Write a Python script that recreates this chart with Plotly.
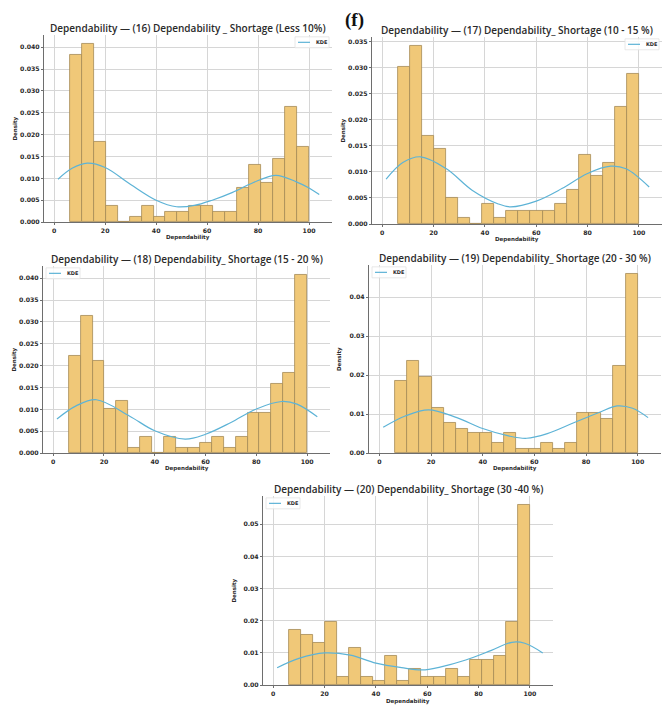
import numpy as np
import plotly.graph_objects as go

# Histogram bins shared by every panel (20 bins over the Dependability scale)
BIN_LO, BIN_HI, N_BINS = 6.1, 100.0, 20

TITLES = [
    "Dependability — (16) Dependability _ Shortage (Less 10%)",
    "Dependability — (17) Dependability_ Shortage (10 - 15 %)",
    "Dependability — (18) Dependability_ Shortage (15 - 20 %)",
    "Dependability — (19) Dependability_ Shortage (20 - 30 %)",
    "Dependability — (20) Dependability_ Shortage (30 -40 %)",
]

# Density per bin
dens_16 = [0.0383, 0.0408, 0.0183, 0.0038, 0.0, 0.0012, 0.0038, 0.0012, 0.0024, 0.0024,
           0.0038, 0.0038, 0.0024, 0.0024, 0.0078, 0.0131, 0.0090, 0.0144, 0.0264, 0.0171]
dens_17 = [0.0302, 0.0342, 0.0170, 0.0144, 0.0051, 0.0012, 0.0, 0.0038, 0.0012, 0.0026,
           0.0026, 0.0026, 0.0026, 0.0038, 0.0065, 0.0132, 0.0092, 0.0118, 0.0224, 0.0289]
dens_18 = [0.0223, 0.0315, 0.0210, 0.0102, 0.0119, 0.0012, 0.0038, 0.0, 0.0038, 0.0012,
           0.0012, 0.0024, 0.0038, 0.0012, 0.0038, 0.0091, 0.0091, 0.0159, 0.0184, 0.0408]
dens_19 = [0.0185, 0.0236, 0.0196, 0.0117, 0.0078, 0.0063, 0.0051, 0.0051, 0.0025, 0.0051,
           0.0012, 0.0012, 0.0025, 0.0012, 0.0025, 0.0102, 0.0102, 0.0089, 0.0223, 0.0460]
dens_20 = [0.0171, 0.0156, 0.0130, 0.0196, 0.0025, 0.0116, 0.0025, 0.0012, 0.0091, 0.0012,
           0.0051, 0.0025, 0.0025, 0.0051, 0.0025, 0.0077, 0.0077, 0.0091, 0.0196, 0.0560]

# KDE curves (x, density)
kde_x_16 = [1.5, 7, 13, 20, 30, 40, 48, 55, 62, 70, 78, 87, 95, 100, 104]
kde_y_16 = [0.0098, 0.0123, 0.0135, 0.0125, 0.0086, 0.0050, 0.0035, 0.0038, 0.0050, 0.0068,
            0.0090, 0.0107, 0.0092, 0.0078, 0.0063]
kde_x_17 = [1.5, 8, 15, 25, 35, 45, 50, 60, 70, 80, 89, 95, 104]
kde_y_17 = [0.0086, 0.0118, 0.0129, 0.0106, 0.0065, 0.0039, 0.0033, 0.0044, 0.0068, 0.0097,
            0.0111, 0.0106, 0.0071]
kde_x_18 = [1.5, 9, 17, 30, 40, 52, 60, 70, 80, 90, 96, 104]
kde_y_18 = [0.0078, 0.0108, 0.0122, 0.0085, 0.0051, 0.0032, 0.0043, 0.0070, 0.0101, 0.0118,
            0.0112, 0.0083]
kde_x_19 = [1.5, 10, 19, 30, 40, 50, 57, 65, 75, 85, 92, 98, 104]
kde_y_19 = [0.0066, 0.0095, 0.0111, 0.0091, 0.0063, 0.0044, 0.0038, 0.0050, 0.0077, 0.0104,
            0.0121, 0.0115, 0.0091]
kde_x_20 = [1.5, 10, 20, 30, 40, 50, 58, 65, 75, 85, 93, 98, 105]
kde_y_20 = [0.0054, 0.0083, 0.0100, 0.0093, 0.0068, 0.0054, 0.0047, 0.0056, 0.0078, 0.0108,
            0.0133, 0.0130, 0.0100]

Y_DTICK = [0.005, 0.005, 0.005, 0.01, 0.01]
Y_FMT = [".3f", ".3f", ".3f", ".2f", ".2f"]
X_TICKS = [0, 20, 40, 60, 80, 100]

densities = [dens_16, dens_17, dens_18, dens_19, dens_20]
kdes = [(kde_x_16, kde_y_16), (kde_x_17, kde_y_17), (kde_x_18, kde_y_18),
        (kde_x_19, kde_y_19), (kde_x_20, kde_y_20)]

W, H = 669, 706
# plot areas in pixels: (left, top, right, bottom)
BOXES = [
    (44, 35, 332, 223),
    (372, 37, 662, 225),
    (43, 267, 330, 455),
    (369, 266, 661, 455),
    (263, 498, 553, 688),
]
LEGEND_LEFT = [False, False, True, True, True]

BAR_FILL = "#F0C878"
BAR_EDGE = "#A58A55"
KDE_COLOR = "#5DB3D6"
TXT = "#2a2a2a"
FONT = "DejaVu Sans"
TITLE_FONT = "Open Sans"

edges = np.linspace(BIN_LO, BIN_HI, N_BINS + 1)
centers = (edges[:-1] + edges[1:]) / 2
widths = np.diff(edges)

fig = go.Figure()
shapes, annotations = [], []

for i in range(5):
    n = "" if i == 0 else str(i + 1)
    xa, ya = "x" + n, "y" + n
    l, t, r, b = BOXES[i]
    dens = densities[i]
    kx, ky = kdes[i]

    fig.add_trace(go.Bar(
        x=centers, y=dens, width=widths, xaxis=xa, yaxis=ya,
        marker=dict(color=BAR_FILL, line=dict(color=BAR_EDGE, width=0.8)),
        showlegend=False, hoverinfo="x+y",
    ))
    fig.add_trace(go.Scatter(
        x=kx, y=ky, mode="lines", line=dict(color=KDE_COLOR, width=1.2, shape="spline"),
        xaxis=xa, yaxis=ya, name="KDE", showlegend=False,
    ))

    ymax = max(dens) * 1.05
    axis_common = dict(
        showline=True, linecolor="#6e6e6e", linewidth=1.2,
        showgrid=True, gridcolor="#d6d6d6", gridwidth=0.8,
        ticks="outside", ticklen=2, tickcolor="#6e6e6e", tickwidth=1,
        tickfont=dict(family=FONT, size=6.2, color=TXT, weight="bold"),
        zeroline=False, mirror=False,
    )
    fig.layout["xaxis" + n] = dict(
        axis_common, domain=[l / W, r / W], anchor=ya, range=[-4, 109],
        tickvals=X_TICKS,
    )
    fig.layout["yaxis" + n] = dict(
        axis_common, domain=[1 - b / H, 1 - t / H], anchor=xa, range=[0, ymax],
        dtick=Y_DTICK[i], tick0=0, tickformat=Y_FMT[i],
    )

    cx = (l + r) / 2
    annotations.append(dict(
        text=TITLES[i], x=cx / W, y=1 - (t - 7) / H, xref="paper", yref="paper",
        xanchor="center", yanchor="middle", showarrow=False,
        font=dict(family=TITLE_FONT, size=10, color=TXT, weight=600),
    ))
    annotations.append(dict(
        text="Dependability", x=cx / W, y=1 - (b + 16) / H, xref="paper", yref="paper",
        xanchor="center", yanchor="middle", showarrow=False,
        font=dict(family=FONT, size=5.5, color=TXT, weight="bold"),
    ))
    annotations.append(dict(
        text="Density", x=(l - 29) / W, y=1 - ((t + b) / 2) / H, xref="paper", yref="paper",
        xanchor="center", yanchor="middle", showarrow=False, textangle=-90,
        font=dict(family=FONT, size=5.5, color=TXT, weight="bold"),
    ))

    # legend box with a short line sample
    if LEGEND_LEFT[i]:
        bx0, by0 = l + 3, t + 2
    else:
        bx0, by0 = r - 37, t + 2
    bx1, by1 = bx0 + 34, by0 + 11
    shapes.append(dict(type="rect", xref="paper", yref="paper",
                       x0=bx0 / W, x1=bx1 / W, y0=1 - by1 / H, y1=1 - by0 / H,
                       line=dict(color="#e2e2e2", width=0.8), fillcolor="rgba(255,255,255,0.85)"))
    ly = (by0 + by1) / 2
    shapes.append(dict(type="line", xref="paper", yref="paper",
                       x0=(bx0 + 3) / W, x1=(bx0 + 15) / W, y0=1 - ly / H, y1=1 - ly / H,
                       line=dict(color=KDE_COLOR, width=1.2)))
    annotations.append(dict(
        text="KDE", x=(bx0 + 19) / W, y=1 - ly / H, xref="paper", yref="paper",
        xanchor="left", yanchor="middle", showarrow=False,
        font=dict(family=FONT, size=5, color=TXT, weight="bold"),
    ))

annotations.append(dict(
    text="<b>(f)</b>", x=354 / W, y=1 - 20 / H, xref="paper", yref="paper",
    xanchor="center", yanchor="middle", showarrow=False,
    font=dict(family="Liberation Serif", size=19, color="#111"),
))

fig.update_layout(
    width=W, height=H, margin=dict(l=0, r=0, t=0, b=0),
    paper_bgcolor="white", plot_bgcolor="white",
    bargap=0, showlegend=False,
    shapes=shapes, annotations=annotations,
)

fig.write_html("out.html")
